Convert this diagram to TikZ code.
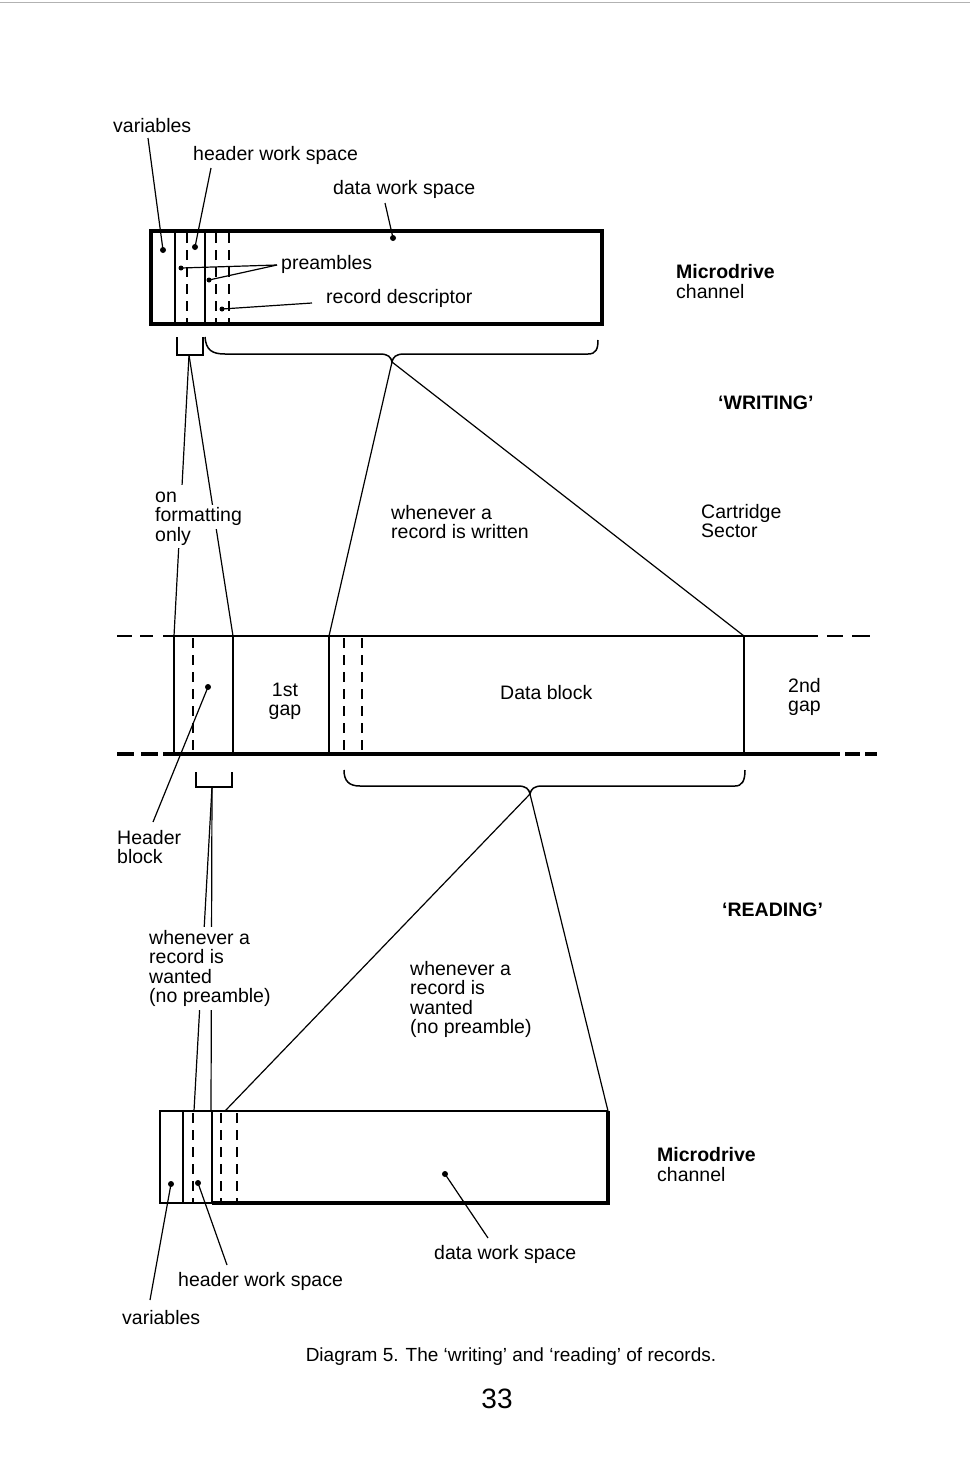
\documentclass[tikz,border=0pt]{standalone}
\usepackage{fontspec}
\setmainfont{Liberation Sans}
\begin{document}
\begin{tikzpicture}[x=1pt,y=-1pt,
  lbl/.style={font=\fontsize{19.5}{19.6}\selectfont, anchor=base west, inner xsep=0pt, inner ysep=3pt, align=left},
  bld/.style={lbl, font=\fontsize{19.5}{19.6}\selectfont\bfseries},
  one/.style={font=\fontsize{19.5}{19.6}\selectfont, anchor=base west, inner xsep=0pt, inner ysep=3pt, text height=14pt, text depth=4pt},
  mask/.style={fill=white},
  conn/.style={line width=1.2pt},
  boxline/.style={line width=3.2pt},
  heavy/.style={line width=4.2pt},
  innerline/.style={line width=2.4pt},
  dsh/.style={line width=2.4pt, dash pattern=on 10pt off 7pt},
  bracestyle/.style={line width=1.5pt},
  dot/.style={circle, fill=black, inner sep=0pt, minimum size=6pt}
]
\useasboundingbox (0,0) rectangle (970,1478);
\draw[gray!60, line width=1pt] (0,2) -- (970,2);

% ---------------- top channel box ----------------
\draw[boxline] (151,324) -- (151,231) -- (602,231) -- (602,324);
\draw[heavy] (149,324) -- (604,324);
\draw[innerline] (175,231) -- (175,324);
\draw[innerline] (205,231) -- (205,324);
\draw[dsh] (187,233) -- (187,324);
\draw[dsh] (216,233) -- (216,324);
\draw[dsh] (229,233) -- (229,324);

\node[dot] (tv) at (163,250) {};
\node[dot] (th) at (195,247) {};
\node[dot] (td) at (393,238) {};
\node[dot, minimum size=5pt] (tp1) at (181,268) {};
\node[dot, minimum size=5pt] (tp2) at (209,280) {};
\node[dot, minimum size=5pt] (trd) at (222,309) {};

\node[lbl] (lvar) at (113,132) {variables};
\node[lbl] (lhws) at (193,160) {header work space};
\node[lbl] (ldws) at (333,194) {data work space};
\node[lbl] (lpre) at (281,269) {preambles};
\node[lbl] (lrd) at (326,303) {record descriptor};
\node[bld] (lmd1) at (676,278) {Microdrive};
\node[lbl] (lch1) at (676,298) {channel};

\coordinate (cvar) at (148,138);
\coordinate (chws) at (211,168);
\coordinate (cdws) at (385,203);
\coordinate (cpre) at (277,265);
\coordinate (crd) at (312,303);
\draw[conn] (cvar) -- (tv.center);
\draw[conn] (chws) -- (th.center);
\draw[conn] (cdws) -- (td.center);
\draw[conn] (cpre) -- (tp1.center);
\draw[conn] (cpre) -- (tp2.center);
\draw[conn] (crd) -- (trd.center);

% small bracket and brace below the top box
\coordinate (tbk) at (189,355);
\draw[bracestyle] (177,337) -- (177,355) -- (203,355) -- (203,337);
\coordinate (tapex) at (392,362);
\draw[bracestyle] (205,337) .. controls (206,350) and (212,354) .. (225,354) -- (380,354)
  .. controls (388,354) and (391,357) .. (tapex)
  .. controls (393,357) and (396,354) .. (404,354) -- (588,354)
  .. controls (596,354) and (598,349) .. (598,340);

\node[bld] (lwr) at (718,409) {‘WRITING’};

% ---------------- tape ----------------
\coordinate (hbl) at (174,636);
\coordinate (hbr) at (233,636);
\coordinate (dbl) at (329,636);
\coordinate (dbr) at (744,636);

\draw[innerline] (117,636) -- (132,636) (140,636) -- (153,636);
\draw[innerline] (163,636) -- (818,636);
\draw[innerline] (827,636) -- (843,636) (852,636) -- (870,636);
\draw[line width=4.6pt] (117,754) -- (134,754) (141,754) -- (158,754);
\draw[line width=4.6pt] (163,754) -- (840,754);
\draw[line width=4.6pt] (845,754) -- (860,754) (865,754) -- (877,754);

\draw[innerline] (hbl) -- (174,754);
\draw[innerline] (hbr) -- (233,754);
\draw[innerline] (dbl) -- (329,754);
\draw[innerline] (dbr) -- (744,754);
\draw[dsh] (193,638) -- (193,754);
\draw[dsh] (344,638) -- (344,754);
\draw[dsh] (362,638) -- (362,754);

\node[dot] (hdot) at (208,687) {};
\coordinate (chb) at (153,822);
\draw[conn] (hdot.center) -- (chb);

% multi-line labels: the base anchor is the baseline of the last line
\node[lbl, anchor=base, align=center] (l1st) at (285,715.6) {1st\\gap};
\node[lbl] (ldb) at (500,699) {Data block};
\node[lbl] (l2nd) at (788,711.6) {2nd\\gap};
\node[lbl] (lhb) at (117,863.6) {Header\\block};

% connectors writing
\draw[conn] (tbk) -- (hbl);
\draw[conn] (tbk) -- (hbr);
\draw[conn] (tapex) -- (dbl);
\draw[conn] (tapex) -- (dbr);

\node[one, mask] (lon) at (155,502) {on\rule{12pt}{0pt}};
\node[one, mask] (lfmt) at (155,521.6) {formatting};
\node[one, mask] (lonly) at (155,541.2) {only};
\node[lbl] (lwrt) at (391,538.6) {whenever a\\record is written};
\node[lbl] (lcs) at (701,537.6) {Cartridge\\Sector};

% brackets below tape
\coordinate (bbk) at (212,787);
\draw[bracestyle] (196,772) -- (196,787) -- (232,787) -- (232,772);
\coordinate (bapex) at (530,794);
\draw[bracestyle] (344,770) .. controls (344,781) and (349,786) .. (360,786) -- (518,786)
  .. controls (526,786) and (529,789) .. (bapex)
  .. controls (531,789) and (534,786) .. (542,786) -- (735,786)
  .. controls (742,786) and (745,781) .. (745,770);

\node[bld] (lrd2) at (722,916) {‘READING’};

% ---------------- bottom channel box ----------------
\coordinate (rb1) at (194,1111);
\coordinate (rb2) at (211,1111);
\coordinate (rb3) at (225,1111);
\coordinate (rb4) at (608,1111);

\draw[conn] (bbk) -- (rb1);
\draw[conn] (bbk) -- (rb2);
\draw[conn] (bapex) -- (rb3);
\draw[conn] (bapex) -- (rb4);

\node[lbl, mask] (lwant1) at (149,1002.8) {whenever a\\record is\\wanted\\(no preamble)};
\node[lbl] (lwant2) at (410,1033.8) {whenever a\\record is\\wanted\\(no preamble)};

\draw[innerline] (160,1203) -- (160,1111) -- (608,1111);
\draw[line width=3.6pt] (608,1111) -- (608,1205);
\draw[innerline] (159,1203) -- (212,1203);
\draw[heavy] (212,1203) -- (610,1203);
\draw[innerline] (183,1111) -- (183,1203);
\draw[innerline] (212,1111) -- (212,1203);
\draw[dsh] (193,1113) -- (193,1203);
\draw[dsh] (221,1113) -- (221,1203);
\draw[dsh] (237,1113) -- (237,1203);

\node[dot] (bv) at (171,1184) {};
\node[dot] (bh) at (198,1183) {};
\node[dot] (bd) at (445,1174) {};

\node[lbl] (bvar) at (122,1324) {variables};
\node[lbl] (bhws) at (178,1286) {header work space};
\node[lbl] (bdws) at (434,1259) {data work space};
\node[bld] (bmd) at (657,1161) {Microdrive};
\node[lbl] (bch) at (657,1181) {channel};

\coordinate (cbv) at (150,1300);
\coordinate (cbh) at (227,1265);
\coordinate (cbd) at (488,1238);
\draw[conn] (cbv) -- (bv.center);
\draw[conn] (cbh) -- (bh.center);
\draw[conn] (cbd) -- (bd.center);

% caption
\node[font=\fontsize{19}{20}\selectfont, anchor=base, inner sep=0pt] (cap) at (511,1361) {Diagram 5. The ‘writing’ and ‘reading’ of records.};
\node[font=\fontsize{28}{30}\selectfont, anchor=base, inner sep=0pt] (pg) at (497,1408) {33};
\end{tikzpicture}
\end{document}
